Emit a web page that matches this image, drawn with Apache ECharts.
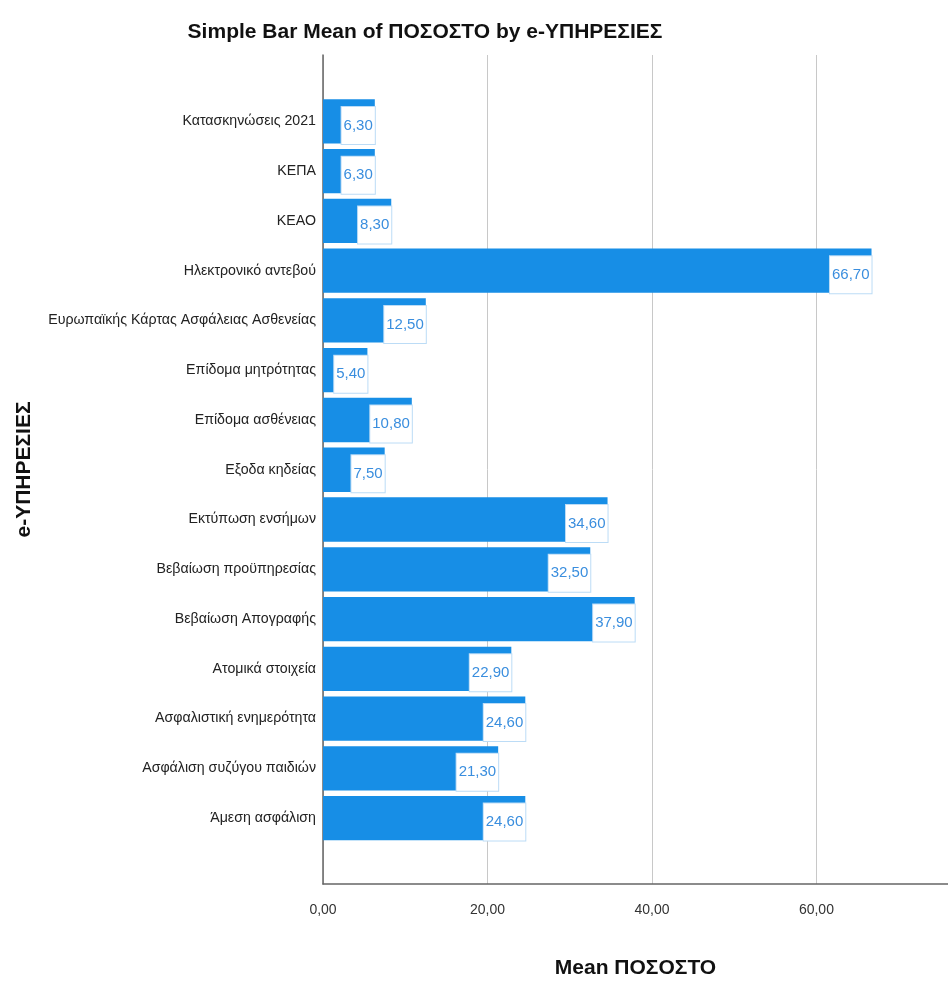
<!DOCTYPE html>
<html>
<head>
<meta charset="utf-8">
<script src="https://cdn.jsdelivr.net/npm/echarts@6/dist/echarts.min.js"></script>
<style>
  html, body { margin: 0; padding: 0; background: #fff; }
  #chart { width: 948px; height: 982px; }
</style>
</head>
<body>
<div id="chart"></div>
<script>
var services = ['Κατασκηνώσεις 2021', 'ΚΕΠΑ', 'ΚΕΑΟ', 'Ηλεκτρονικό αντεβού',
    'Ευρωπαϊκής Κάρτας Ασφάλειας Ασθενείας', 'Επίδομα μητρότητας', 'Επίδομα ασθένειας',
    'Εξοδα κηδείας', 'Εκτύπωση ενσήμων', 'Βεβαίωση προϋπηρεσίας', 'Βεβαίωση Απογραφής',
    'Ατομικά στοιχεία', 'Ασφαλιστική ενημερότητα', 'Ασφάλιση συζύγου παιδιών', 'Άμεση ασφάλιση'];
var meanValues = [6.3, 6.3, 8.3, 66.7, 12.5, 5.4, 10.8, 7.5, 34.6, 32.5, 37.9, 22.9, 24.6, 21.3, 24.6];
var xTicks = [0, 20, 40, 60];

var narrow = "'Liberation Sans Narrow', 'Arial Narrow', 'Liberation Sans', sans-serif";
var xMax = 76;

function comma(v) {
    return v.toFixed(2).replace('.', ',');
}

var chart = echarts.init(document.getElementById('chart'));

var option = {
    backgroundColor: '#fff',
    animation: false,
    title: {
        text: 'Simple Bar Mean of ΠΟΣΟΣΤΟ by e-ΥΠΗΡΕΣΙΕΣ',
        left: 420,
        textAlign: 'center',
        top: 17,
        textStyle: {
            fontFamily: narrow,
            fontSize: 21,
            fontWeight: 'bold',
            color: '#111'
        }
    },
    grid: [
        { left: 323, right: 0, top: 55, bottom: 98, outerBoundsMode: 'none', containLabel: false },
        { left: 323, right: 0, top: 96.5, bottom: 139, outerBoundsMode: 'none', containLabel: false }
    ],
    xAxis: [
        {
            gridIndex: 0,
            type: 'value',
            min: 0,
            max: xMax,
            interval: 20,
            name: 'Mean ΠΟΣΟΣΤΟ',
            nameLocation: 'middle',
            nameGap: 74,
            nameTextStyle: {
                fontFamily: narrow,
                fontSize: 21,
                fontWeight: 'bold',
                color: '#111'
            },
            axisLine: { show: true, lineStyle: { color: '#666', width: 1.5 } },
            axisTick: { show: false },
            axisLabel: {
                margin: 19,
                fontFamily: narrow,
                fontSize: 14,
                color: '#333',
                showMaxLabel: false,
                formatter: function (v) {
                    return xTicks.indexOf(v) >= 0 ? comma(v) : '';
                }
            },
            splitLine: { show: true, lineStyle: { color: '#c8c8c8', width: 1 } }
        },
        {
            gridIndex: 1,
            type: 'value',
            min: 0,
            max: xMax,
            show: false
        }
    ],
    yAxis: [
        {
            gridIndex: 0,
            type: 'value',
            min: 0,
            max: 1,
            name: 'e-ΥΠΗΡΕΣΙΕΣ',
            nameLocation: 'middle',
            nameGap: 288,
            nameRotate: 90,
            nameTextStyle: {
                fontFamily: narrow,
                fontSize: 21,
                fontWeight: 'bold',
                color: '#111'
            },
            axisLine: { show: true, lineStyle: { color: '#666', width: 1.5 } },
            axisTick: { show: false },
            axisLabel: { show: false },
            splitLine: { show: false }
        },
        {
            gridIndex: 1,
            type: 'category',
            inverse: true,
            data: services,
            axisLine: { show: false },
            axisTick: { show: false },
            axisLabel: {
                margin: 7,
                fontFamily: narrow,
                fontSize: 14.2,
                color: '#222'
            }
        }
    ],
    series: [{
        type: 'bar',
        xAxisIndex: 1,
        yAxisIndex: 1,
        data: meanValues,
        barCategoryGap: '11%',
        itemStyle: { color: '#178ee6' },
        label: {
            show: true,
            position: 'insideRight',
            distance: 0,
            offset: [0, 4],
            formatter: function (p) { return comma(p.value); },
            fontFamily: narrow,
            fontSize: 15,
            color: '#3a8ede',
            backgroundColor: '#fff',
            borderColor: '#bcdcf6',
            borderWidth: 1,
            padding: [0, 2],
            height: 37,
            lineHeight: 37
        }
    }]
};

option && chart.setOption(option);
</script>
</body>
</html>
